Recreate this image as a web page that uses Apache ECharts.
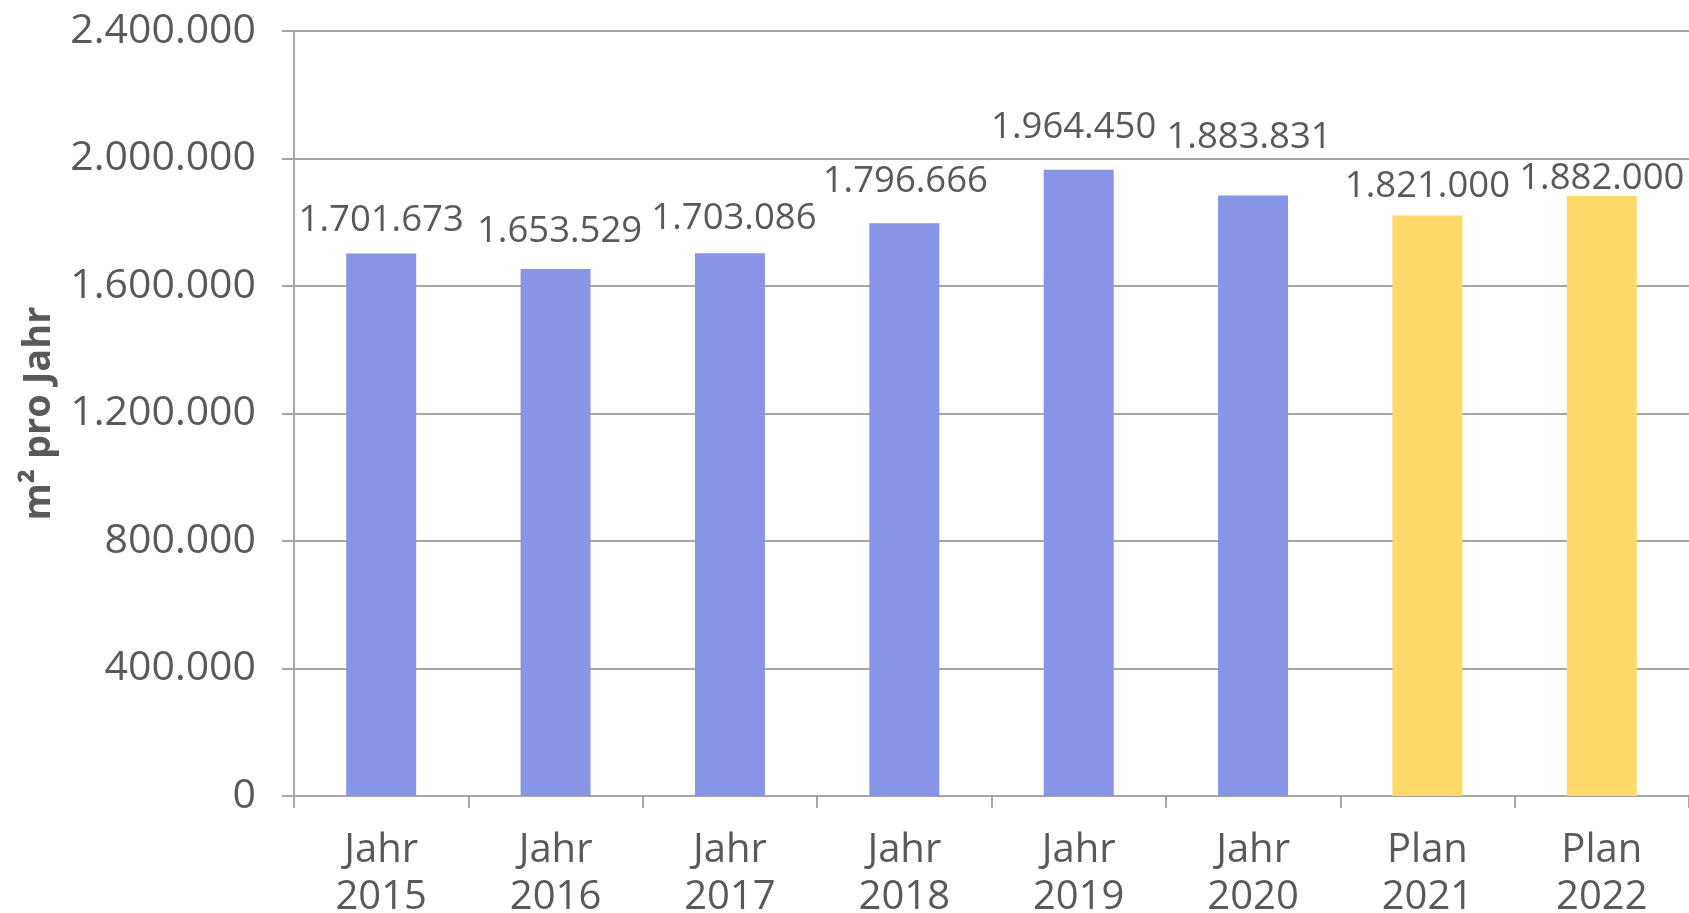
<!DOCTYPE html>
<html>
<head>
<meta charset="utf-8">
<script src="https://cdn.jsdelivr.net/npm/echarts@6/dist/echarts.min.js"></script>
<style>
html,body{margin:0;padding:0;background:#fff;}
#chart{width:1689px;height:913px;}
</style>
</head>
<body>
<div id="chart"></div>
<script>
const categories = ['Jahr\n2015','Jahr\n2016','Jahr\n2017','Jahr\n2018','Jahr\n2019','Jahr\n2020','Plan\n2021','Plan\n2022'];
const values = [1701673, 1653529, 1703086, 1796666, 1964450, 1883831, 1821000, 1882000];
const isPlan = [false, false, false, false, false, false, true, true];
const yTicks = [0, 400000, 800000, 1200000, 1600000, 2000000, 2400000];
const yAxisName = 'm² pro Jahr';

const labelDy = [-15, -19, -17, -24, -24, -40, -11, 0];
const labelDx = [0, 4, 4, 1, -5, -4, 0, 0];

function fmt(v){ return String(Math.round(v)).replace(/\B(?=(\d{3})+(?!\d))/g, '.'); }

const FONT = '"Open Sans", "Noto Sans", sans-serif';
const TXT = '#595959';
const GRID = '#a6a6a6';

const chart = echarts.init(document.getElementById('chart'), null, {renderer:'canvas'});
chart.setOption({
  animation: false,
  backgroundColor: '#ffffff',
  grid: {left: 294, top: 31, right: 0, bottom: 117, containLabel: false, outerBoundsMode: 'none'},
  xAxis: {
    type: 'category',
    data: categories,
    axisLine: {show: true, lineStyle: {color: GRID, width: 2}},
    axisTick: {show: true, length: 12, lineStyle: {color: GRID, width: 2}},
    axisLabel: {color: TXT, fontFamily: FONT, fontSize: 40, lineHeight: 47, margin: 31, interval: 0}
  },
  yAxis: {
    type: 'value',
    min: yTicks[0],
    max: yTicks[yTicks.length-1],
    interval: yTicks[1]-yTicks[0],
    name: yAxisName,
    nameLocation: 'middle',
    nameGap: 236,
    nameRotate: 90,
    nameTextStyle: {color: TXT, fontFamily: FONT, fontSize: 38, fontWeight: 'bold'},
    axisLine: {show: true, lineStyle: {color: GRID, width: 2}},
    axisTick: {show: true, length: 12, lineStyle: {color: GRID, width: 2}},
    splitLine: {show: true, lineStyle: {color: GRID, width: 2}},
    axisLabel: {color: TXT, fontFamily: FONT, fontSize: 41, margin: 38, formatter: v => fmt(v)}
  },
  series: [{
    type: 'bar',
    barWidth: 70,
    data: values.map((v, i) => ({
      value: v,
      itemStyle: {color: isPlan[i] ? '#ffda6a' : '#8895e6'},
      label: {offset: [labelDx[i], labelDy[i]]}
    })),
    label: {
      show: true,
      position: 'top',
      distance: 0,
      color: TXT,
      fontFamily: FONT,
      fontSize: 36.5,
      lineHeight: 36,
      formatter: p => fmt(p.value)
    }
  }]
});
</script>
</body>
</html>
